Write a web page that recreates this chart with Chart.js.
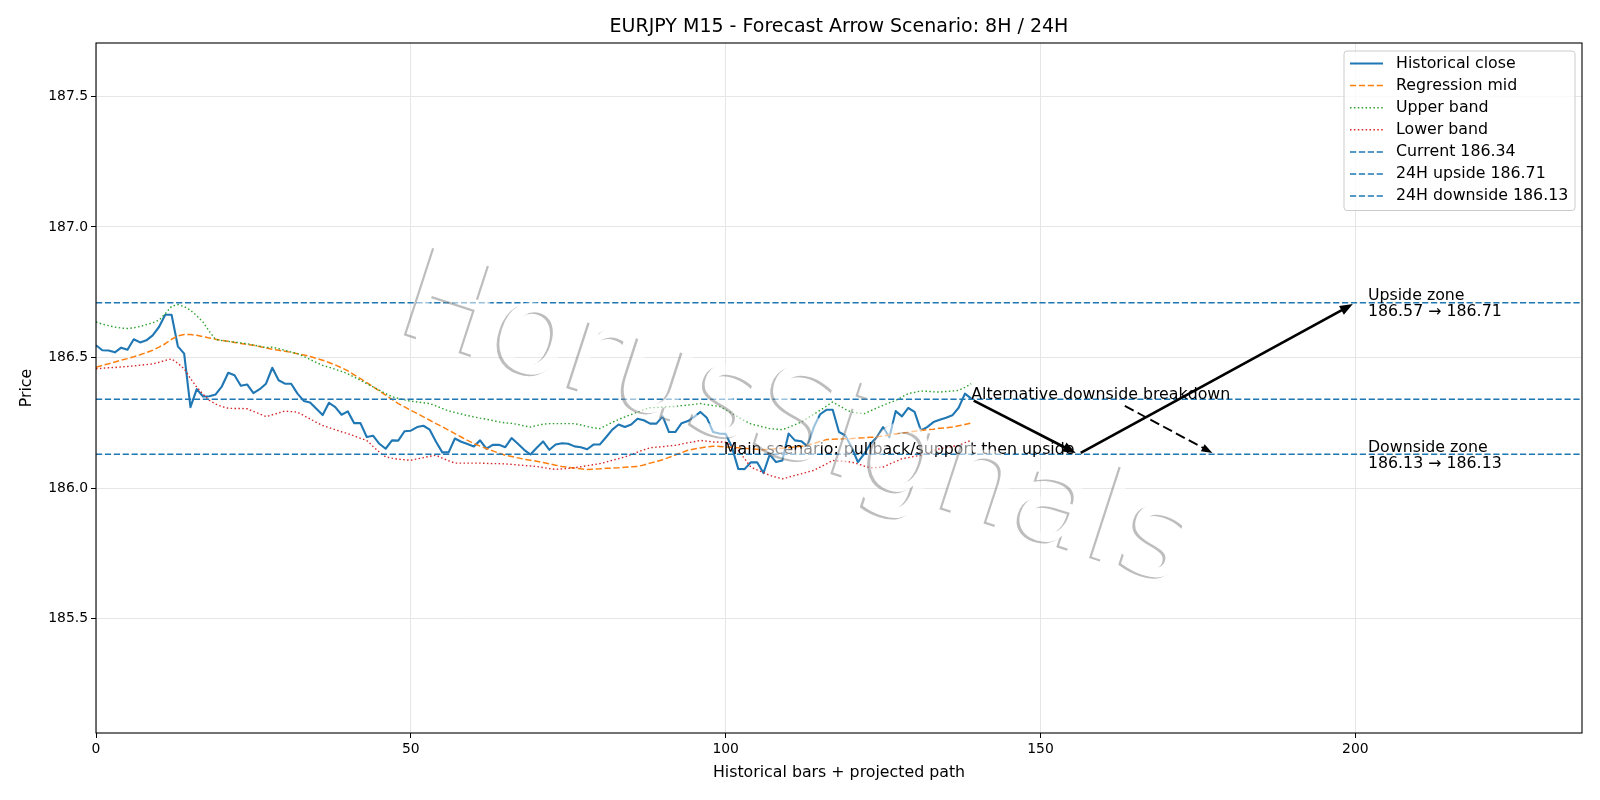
<!DOCTYPE html>
<html>
<head>
<meta charset="utf-8">
<script src="https://cdn.jsdelivr.net/npm/chart.js@4.4.1/dist/chart.umd.min.js"></script>
<style>
  html, body { margin: 0; padding: 0; background: #fff; }
</style>
</head>
<body>
<canvas id="grafico" width="1600" height="800"></canvas>
<script>
// valores (M15, 140 barras)
const closeValues = [
  186.547, 186.528, 186.527, 186.520, 186.538, 186.530, 186.570, 186.558, 186.566, 186.585,
  186.617, 186.664, 186.664, 186.543, 186.515, 186.310, 186.379, 186.351, 186.352, 186.359,
  186.390, 186.442, 186.432, 186.392, 186.397, 186.364, 186.379, 186.400, 186.461, 186.413,
  186.400, 186.400, 186.362, 186.334, 186.328, 186.304, 186.280, 186.327, 186.310, 186.281,
  186.294, 186.249, 186.249, 186.196, 186.201, 186.170, 186.151, 186.183, 186.182, 186.218,
  186.220, 186.234, 186.239, 186.224, 186.178, 186.137, 186.137, 186.190, 186.178, 186.169,
  186.160, 186.183, 186.151, 186.166, 186.166, 186.157, 186.192, 186.170, 186.147, 186.129,
  186.155, 186.179, 186.147, 186.167, 186.172, 186.170, 186.160, 186.157, 186.149, 186.167,
  186.167, 186.195, 186.224, 186.244, 186.234, 186.244, 186.266, 186.260, 186.247, 186.247,
  186.275, 186.215, 186.215, 186.249, 186.257, 186.273, 186.292, 186.270, 186.215, 186.209,
  186.208, 186.157, 186.074, 186.073, 186.099, 186.099, 186.058, 186.129, 186.100, 186.106,
  186.209, 186.183, 186.180, 186.160, 186.234, 186.283, 186.300, 186.300, 186.215, 186.202,
  186.157, 186.100, 186.131, 186.170, 186.195, 186.234, 186.195, 186.295, 186.275, 186.307,
  186.292, 186.221, 186.234, 186.253, 186.262, 186.270, 186.279, 186.308, 186.362, 186.343
];
const midValues = [
  186.463, 186.470, 186.476, 186.483, 186.490, 186.496, 186.503, 186.511, 186.519, 186.528,
  186.540, 186.553, 186.570, 186.583, 186.588, 186.588, 186.585, 186.580, 186.575, 186.570,
  186.566, 186.562, 186.558, 186.554, 186.550, 186.547, 186.542, 186.537, 186.532, 186.528,
  186.524, 186.520, 186.515, 186.510, 186.504, 186.497, 186.490, 186.481, 186.472, 186.461,
  186.449, 186.434, 186.419, 186.404, 186.388, 186.372, 186.356, 186.340, 186.324, 186.311,
  186.298, 186.286, 186.273, 186.260, 186.247, 186.235, 186.222, 186.209, 186.196, 186.183,
  186.171, 186.161, 186.152, 186.143, 186.134, 186.126, 186.121, 186.116, 186.111, 186.107,
  186.103, 186.098, 186.093, 186.088, 186.083, 186.080, 186.077, 186.074, 186.072, 186.073,
  186.074, 186.076, 186.077, 186.078, 186.080, 186.082, 186.083, 186.089, 186.096, 186.102,
  186.109, 186.118, 186.127, 186.136, 186.145, 186.150, 186.154, 186.158, 186.161, 186.160,
  186.158, 186.157, 186.155, 186.153, 186.151, 186.149, 186.147, 186.149, 186.151, 186.153,
  186.155, 186.158, 186.161, 186.164, 186.171, 186.179, 186.186, 186.187, 186.188, 186.189,
  186.190, 186.192, 186.193, 186.195, 186.196, 186.200, 186.204, 186.208, 186.211, 186.214,
  186.218, 186.221, 186.224, 186.226, 186.229, 186.231, 186.234, 186.239, 186.244, 186.249
];
const upperValues = [
  186.636, 186.628, 186.622, 186.617, 186.613, 186.611, 186.614, 186.619, 186.626, 186.633,
  186.643, 186.668, 186.696, 186.703, 186.695, 186.681, 186.660, 186.636, 186.600, 186.569,
  186.565, 186.562, 186.559, 186.556, 186.553, 186.548, 186.543, 186.538, 186.540, 186.534,
  186.528, 186.521, 186.515, 186.504, 186.493, 186.481, 186.470, 186.463, 186.455, 186.447,
  186.438, 186.425, 186.413, 186.400, 186.388, 186.375, 186.362, 186.350, 186.344, 186.338,
  186.333, 186.330, 186.327, 186.324, 186.315, 186.305, 186.296, 186.290, 186.284, 186.278,
  186.273, 186.268, 186.264, 186.259, 186.254, 186.250, 186.248, 186.244, 186.238, 186.234,
  186.240, 186.245, 186.247, 186.247, 186.247, 186.247, 186.247, 186.242, 186.236, 186.231,
  186.228, 186.240, 186.252, 186.263, 186.273, 186.282, 186.291, 186.300, 186.308, 186.309,
  186.310, 186.312, 186.313, 186.316, 186.318, 186.321, 186.324, 186.320, 186.316, 186.313,
  186.300, 186.287, 186.272, 186.258, 186.246, 186.240, 186.234, 186.228, 186.226, 186.224,
  186.233, 186.243, 186.253, 186.268, 186.283, 186.298, 186.314, 186.330, 186.316, 186.302,
  186.291, 186.288, 186.285, 186.296, 186.307, 186.317, 186.327, 186.336, 186.349, 186.362,
  186.367, 186.372, 186.371, 186.369, 186.368, 186.370, 186.372, 186.374, 186.386, 186.400
];
const lowerValues = [
  186.457, 186.459, 186.461, 186.462, 186.464, 186.466, 186.468, 186.471, 186.473, 186.476,
  186.482, 186.489, 186.495, 186.478, 186.457, 186.420, 186.387, 186.360, 186.336, 186.322,
  186.312, 186.306, 186.305, 186.305, 186.304, 186.294, 186.284, 186.274, 186.281, 186.288,
  186.295, 186.293, 186.291, 186.278, 186.265, 186.252, 186.240, 186.232, 186.224, 186.216,
  186.209, 186.200, 186.191, 186.183, 186.160, 186.138, 186.120, 186.115, 186.111, 186.109,
  186.107, 186.112, 186.117, 186.122, 186.126, 186.115, 186.105, 186.096, 186.096, 186.096,
  186.096, 186.096, 186.095, 186.094, 186.094, 186.093, 186.091, 186.089, 186.087, 186.085,
  186.083, 186.079, 186.075, 186.072, 186.074, 186.076, 186.078, 186.082, 186.086, 186.090,
  186.094, 186.100, 186.107, 186.113, 186.120, 186.129, 186.138, 186.147, 186.155, 186.157,
  186.159, 186.162, 186.164, 186.169, 186.174, 186.178, 186.183, 186.180, 186.177, 186.177,
  186.176, 186.161, 186.145, 186.113, 186.081, 186.070, 186.060, 186.049, 186.042, 186.036,
  186.042, 186.049, 186.055, 186.062, 186.068, 186.081, 186.093, 186.106, 186.104, 186.102,
  186.100, 186.093, 186.085, 186.078, 186.079, 186.081, 186.092, 186.102, 186.113, 186.117,
  186.122, 186.126, 186.134, 186.143, 186.151, 186.155, 186.160, 186.164, 186.174, 186.183
];

const currentPrice = 186.34;
const upsideTarget = 186.71;
const downsideTarget = 186.13;
const upsideZone = [186.57, 186.71];
const downsideZone = [186.13, 186.13];

const xTicks = [0, 50, 100, 150, 200];
const yTicks = [185.5, 186.0, 186.5, 187.0, 187.5];
const xMax = 236;
const yMin = 185.063;
const yMax = 187.704;

// caminho projetado: cenário principal e alternativo
const mainPath = [[139, 186.34], [156, 186.13], [200, 186.71]];
const altPath = [[163, 186.32], [177.7, 186.13]];
const mainLabelX = 155.4;
const zoneLabelX = 202;

const FONT = '"DejaVu Sans", "Liberation Sans", sans-serif';
const watermarkText = 'HorusSignals';

const pontos = arr => arr.map((v, i) => ({ x: i, y: v }));
const linhaH = v => [{ x: 0, y: v }, { x: xMax, y: v }];

function desenharSeta(ctx, x1, y1, x2, y2, tracejada) {
    const ang = Math.atan2(y2 - y1, x2 - x1);
    const c = Math.cos(ang), s = Math.sin(ang);
    const shrink = 2.8;
    const sx = x1 + c * shrink, sy = y1 + s * shrink;
    const ex = x2 - c * shrink, ey = y2 - s * shrink;
    const head = tracejada ? 11 : 13, half = tracejada ? 4 : 5;
    const bx = ex - c * head, by = ey - s * head;
    ctx.save();
    ctx.strokeStyle = '#000';
    ctx.fillStyle = '#000';
    ctx.lineWidth = tracejada ? 1.9 : 2.7;
    ctx.setLineDash(tracejada ? [10, 4.5] : []);
    ctx.beginPath();
    ctx.moveTo(sx, sy);
    ctx.lineTo(bx + c * 2, by + s * 2);
    ctx.stroke();
    ctx.setLineDash([]);
    ctx.beginPath();
    ctx.moveTo(ex, ey);
    ctx.lineTo(bx - s * half, by + c * half);
    ctx.lineTo(bx + s * half, by - c * half);
    ctx.closePath();
    ctx.fill();
    ctx.restore();
}

function desenharMarcaDagua(chart) {
    const { ctx, chartArea: a } = chart;
    const cx = a.left + (a.right - a.left) * 0.464;
    const cy = a.top + (a.bottom - a.top) * 0.6;
    const ang = 18 * Math.PI / 180;
    const preparar = g => {
        g.translate(cx, cy);
        g.rotate(ang);
        g.font = `126px ${FONT}`;
        g.textAlign = 'center';
        g.textBaseline = 'alphabetic';
    };
    const off = document.createElement('canvas');
    off.width = chart.width;
    off.height = chart.height;
    const o = off.getContext('2d');
    o.save();
    preparar(o);
    o.fillStyle = 'rgba(135,135,135,0.55)';
    o.fillText(watermarkText, -2.2, 2.2);
    o.globalCompositeOperation = 'destination-out';
    o.fillStyle = '#000';
    o.fillText(watermarkText, 0, 0);
    o.restore();

    ctx.save();
    preparar(ctx);
    ctx.fillStyle = 'rgba(255,255,255,0.55)';
    ctx.fillText(watermarkText, 0, 0);
    ctx.restore();
    ctx.drawImage(off, 0, 0);
}

function desenharLegenda(chart) {
    const { ctx, chartArea: a } = chart;
    const itens = chart.data.datasets;
    const w = 231, linha = 22.1, h = 159.5;
    const x0 = a.right - 7 - w, y0 = a.top + 8;
    ctx.save();
    ctx.fillStyle = 'rgba(255,255,255,0.8)';
    ctx.strokeStyle = '#cccccc';
    ctx.lineWidth = 1;
    ctx.beginPath();
    ctx.roundRect(x0, y0, w, h, 3);
    ctx.fill();
    ctx.stroke();
    ctx.font = `15.8px ${FONT}`;
    ctx.textBaseline = 'middle';
    itens.forEach((ds, i) => {
        const yy = y0 + 12.5 + i * linha;
        ctx.strokeStyle = ds.borderColor;
        ctx.lineWidth = ds.borderWidth;
        ctx.setLineDash(ds.borderDash || []);
        ctx.beginPath();
        ctx.moveTo(x0 + 6, yy);
        ctx.lineTo(x0 + 39, yy);
        ctx.stroke();
        ctx.setLineDash([]);
        ctx.fillStyle = '#000';
        ctx.fillText(ds.label, x0 + 52, yy);
    });
    ctx.restore();
}

const cenarioPlugin = {
    id: 'cenario',
    afterDatasetsDraw(chart) {
        const { ctx, chartArea: a, scales: { x, y } } = chart;
        const px = p => [x.getPixelForValue(p[0]), y.getPixelForValue(p[1])];

        for (let i = 0; i < mainPath.length - 1; i++) {
            const [x1, y1] = px(mainPath[i]);
            const [x2, y2] = px(mainPath[i + 1]);
            desenharSeta(ctx, x1, y1, x2, y2, false);
        }
        const [ax1, ay1] = px(altPath[0]);
        const [ax2, ay2] = px(altPath[1]);
        desenharSeta(ctx, ax1, ay1, ax2, ay2, true);

        ctx.save();
        ctx.fillStyle = '#000';
        ctx.font = `15.8px ${FONT}`;
        ctx.textBaseline = 'alphabetic';
        ctx.textAlign = 'left';
        ctx.fillText('Alternative downside breakdown', x.getPixelForValue(mainPath[0][0]), y.getPixelForValue(currentPrice));
        ctx.textAlign = 'right';
        ctx.fillText('Main scenario: pullback/support then upside', x.getPixelForValue(mainLabelX), y.getPixelForValue(mainPath[1][1]));
        ctx.textAlign = 'left';
        const zonas = [
            ['Upside zone', `${upsideZone[0].toFixed(2)} \u2192 ${upsideZone[1].toFixed(2)}`, upsideTarget],
            ['Downside zone', `${downsideZone[0].toFixed(2)} \u2192 ${downsideZone[1].toFixed(2)}`, downsideTarget]
        ];
        zonas.forEach(([t1, t2, v]) => {
            const zx = x.getPixelForValue(zoneLabelX), zy = y.getPixelForValue(v);
            ctx.fillText(t1, zx, zy - 2.5);
            ctx.fillText(t2, zx, zy + 13.8);
        });
        ctx.restore();

        desenharMarcaDagua(chart);
        desenharLegenda(chart);

        ctx.save();
        ctx.strokeStyle = '#000';
        ctx.lineWidth = 1.1;
        ctx.strokeRect(a.left, a.top, a.right - a.left, a.bottom - a.top);
        ctx.restore();
    },
    afterDraw(chart) {
        const { ctx, chartArea: a } = chart;
        ctx.save();
        ctx.fillStyle = '#000';
        ctx.font = `19px ${FONT}`;
        ctx.textAlign = 'center';
        ctx.textBaseline = 'alphabetic';
        ctx.fillText('EURJPY M15 - Forecast Arrow Scenario: 8H / 24H', (a.left + a.right) / 2, 32);
        ctx.restore();
    }
};

const tickFonte = { family: FONT, size: 13.9 };
const rotuloFonte = { family: FONT, size: 15.8 };

new Chart(document.getElementById('grafico'), {
    type: 'line',
    data: {
        datasets: [
            { label: 'Historical close', data: pontos(closeValues), borderColor: '#1f77b4', borderWidth: 2.1, order: 7 },
            { label: 'Regression mid', data: pontos(midValues), borderColor: '#ff7f0e', borderWidth: 1.5, borderDash: [6.2, 2.7], order: 6 },
            { label: 'Upper band', data: pontos(upperValues), borderColor: '#2ca02c', borderWidth: 1.4, borderDash: [1.5, 2.4], order: 5 },
            { label: 'Lower band', data: pontos(lowerValues), borderColor: '#d62728', borderWidth: 1.4, borderDash: [1.5, 2.4], order: 4 },
            { label: `Current ${currentPrice.toFixed(2)}`, data: linhaH(currentPrice), borderColor: '#1f77b4', borderWidth: 1.5, borderDash: [6.2, 2.7], order: 3 },
            { label: `24H upside ${upsideTarget.toFixed(2)}`, data: linhaH(upsideTarget), borderColor: '#1f77b4', borderWidth: 1.5, borderDash: [6.2, 2.7], order: 2 },
            { label: `24H downside ${downsideTarget.toFixed(2)}`, data: linhaH(downsideTarget), borderColor: '#1f77b4', borderWidth: 1.5, borderDash: [6.2, 2.7], order: 1 }
        ]
    },
    options: {
        responsive: false,
        animation: false,
        layout: { padding: { top: 43, right: 18, left: 0, bottom: 0 } },
        elements: {
            point: { radius: 0 },
            line: { tension: 0, borderJoinStyle: 'round', fill: false }
        },
        plugins: {
            legend: { display: false },
            title: { display: false },
            tooltip: { enabled: false }
        },
        scales: {
            x: {
                type: 'linear',
                min: 0,
                max: xMax,
                afterBuildTicks: s => { s.ticks = xTicks.map(v => ({ value: v })); },
                afterFit: s => { s.height = 67; },
                grid: { color: '#e6e6e6', tickColor: '#000', tickLength: 5, lineWidth: 1 },
                border: { display: false },
                ticks: { color: '#000', font: tickFonte, padding: 3, maxRotation: 0, callback: v => String(v) },
                title: { display: true, text: 'Historical bars + projected path', color: '#000', font: rotuloFonte, padding: { top: 0, bottom: 17.8 } }
            },
            y: {
                type: 'linear',
                min: yMin,
                max: yMax,
                afterBuildTicks: s => { s.ticks = yTicks.map(v => ({ value: v })); },
                afterFit: s => { s.width = 96; },
                grid: { color: '#e6e6e6', tickColor: '#000', tickLength: 5, lineWidth: 1 },
                border: { display: false },
                ticks: { color: '#000', font: tickFonte, padding: 3, callback: v => Number(v).toFixed(1) },
                title: { display: true, text: 'Price', color: '#000', font: rotuloFonte, padding: { top: 17.5, bottom: 0 } }
            }
        }
    },
    plugins: [cenarioPlugin]
});
</script>
</body>
</html>
